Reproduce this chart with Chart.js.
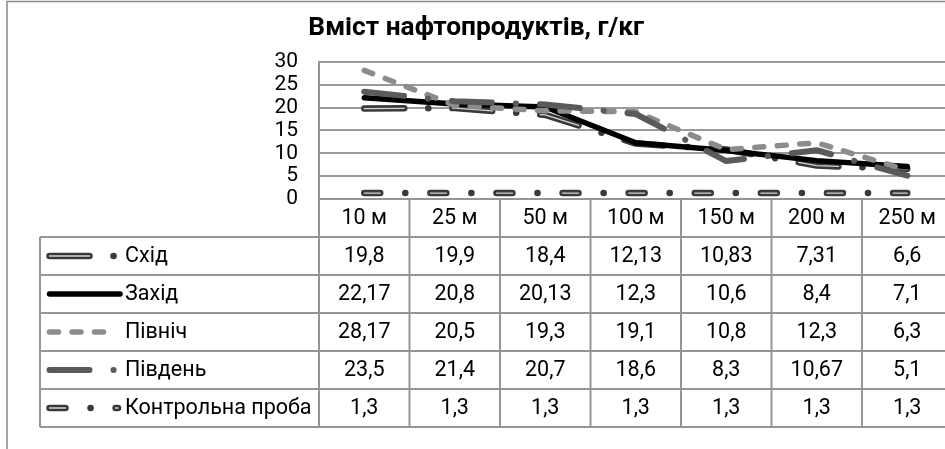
<!DOCTYPE html>
<html><head><meta charset="utf-8">
<script src="https://cdn.jsdelivr.net/npm/chart.js@4.4.1/dist/chart.umd.min.js"></script>
<style>html,body{margin:0;padding:0;background:#fff;overflow:hidden;width:945px;height:449px}canvas{display:block}</style>
</head><body>
<canvas id="c" width="969" height="449"></canvas>
<script>
// ---- data ----
const categories = ['10 м','25 м','50 м','100 м','150 м','200 м','250 м'];
const seriesNames = ['Схід','Захід','Північ','Південь','Контрольна проба'];
const skhid   = [19.8, 19.9, 18.4, 12.13, 10.83, 7.31, 6.6];
const zakhid  = [22.17, 20.8, 20.13, 12.3, 10.6, 8.4, 7.1];
const pivnich = [28.17, 20.5, 19.3, 19.1, 10.8, 12.3, 6.3];
const pivden  = [23.5, 21.4, 20.7, 18.6, 8.3, 10.67, 5.1];
const kontrol = [1.3, 1.3, 1.3, 1.3, 1.3, 1.3, 1.3];
const yTicks  = [0, 5, 10, 15, 20, 25, 30];
const titleText = 'Вміст нафтопродуктів, г/кг';
const seriesValues = [skhid, zakhid, pivnich, pivden, kontrol];

// ---- styles ----
const FONT = 'Roboto';
const styles = [
  {color:'#3a3a3a', width:6.5, dash:[40,24,0.1,24], inner:'#d4d4d4', innerWidth:1.3, innerDash:[40,48.1], keyEnd:113.6},
  {color:'#000000', width:5.5, dash:[], keyEnd:120},
  {color:'#8c8c8c', width:5.5, dash:[9,13.5], keyEnd:107},
  {color:'#5a5a5a', width:6, dash:[40,24,0.1,24], keyEnd:113.6},
  {color:'#3a3a3a', width:6.5, dash:[16,25,0.1,25], inner:'#d4d4d4', innerWidth:1.3, innerDash:[16,50.1], keyEnd:118}
];

const fmt = v => String(v).replace('.', ',');

const frame = {
  id:'frame',
  beforeDraw(chart){
    const ctx = chart.ctx;
    ctx.save();
    ctx.fillStyle = '#fff';
    ctx.fillRect(0,0,chart.width,chart.height);
    ctx.strokeStyle = '#8a8a8a'; ctx.lineWidth = 1.5;
    ctx.beginPath();
    ctx.moveTo(7, chart.height); ctx.lineTo(7, 1.5); ctx.lineTo(chart.width, 1.5);
    ctx.stroke();
    ctx.restore();
  }
};

const innerLine = {
  id:'innerLine',
  afterDatasetDraw(chart, args){
    const st = styles[args.index];
    if (!st || !st.inner) return;
    const pts = args.meta.data;
    const ctx = chart.ctx, a = chart.chartArea;
    ctx.save();
    ctx.beginPath(); ctx.rect(a.left, a.top - 10, a.right - a.left, a.bottom - a.top + 20); ctx.clip();
    ctx.beginPath();
    pts.forEach((p,i)=>{ if(i===0) ctx.moveTo(p.x,p.y); else ctx.lineTo(p.x,p.y); });
    ctx.setLineDash(st.innerDash);
    ctx.lineCap = 'round'; ctx.lineJoin = 'round';
    ctx.strokeStyle = st.inner; ctx.lineWidth = st.innerWidth;
    ctx.stroke();
    ctx.restore();
  }
};

const dataTable = {
  id:'dataTable',
  afterDraw(chart){
    const ctx = chart.ctx, a = chart.chartArea, x = chart.scales.x;
    const w = x.getPixelForValue(1) - x.getPixelForValue(0);
    const top = a.bottom, rowH = 38, legendLeft = 40;
    const n = seriesValues.length;
    const bottom = top + rowH * (n + 1);
    ctx.save();
    ctx.strokeStyle = '#959595'; ctx.lineWidth = 2;
    ctx.beginPath();
    for (let r = 0; r <= n + 1; r++) {
      const y = top + r * rowH;
      ctx.moveTo(r === 0 ? a.left : legendLeft, y); ctx.lineTo(a.right, y);
    }
    ctx.moveTo(legendLeft, top + rowH); ctx.lineTo(legendLeft, bottom);
    ctx.moveTo(a.left, top); ctx.lineTo(a.left, bottom);
    for (let i = 0; i < categories.length; i++) {
      const bx = x.getPixelForValue(i) + w / 2;
      ctx.moveTo(bx, top); ctx.lineTo(bx, bottom);
    }
    ctx.stroke();
    // text
    ctx.fillStyle = '#000';
    ctx.font = '21.5px ' + FONT;
    ctx.textBaseline = 'middle';
    ctx.textAlign = 'center';
    categories.forEach((c,i)=> ctx.fillText(c, x.getPixelForValue(i), top + rowH/2 + 1));
    seriesValues.forEach((vals, r) => {
      const cy = top + (r + 1.5) * rowH + 1;
      vals.forEach((v,i)=> ctx.fillText(fmt(v), x.getPixelForValue(i), cy));
    });
    // legend keys
    ctx.textAlign = 'left';
    seriesNames.forEach((name, r) => {
      const st = styles[r];
      const cy = top + (r + 1.5) * rowH;
      ctx.save();
      ctx.lineCap = 'round';
      ctx.setLineDash(st.dash);
      ctx.strokeStyle = st.color; ctx.lineWidth = st.width;
      ctx.beginPath(); ctx.moveTo(49.5, cy); ctx.lineTo(st.keyEnd, cy); ctx.stroke();
      if (st.inner) {
        ctx.setLineDash(st.innerDash);
        ctx.strokeStyle = st.inner; ctx.lineWidth = st.innerWidth;
        ctx.beginPath(); ctx.moveTo(49.5, cy); ctx.lineTo(st.keyEnd, cy); ctx.stroke();
      }
      ctx.restore();
      ctx.fillText(name, 125, cy + 1);
    });
    ctx.restore();
  }
};

Chart.defaults.font.family = FONT;
Chart.defaults.color = '#000';

new Chart(document.getElementById('c'), {
  type:'line',
  data:{
    labels: categories,
    datasets: seriesNames.map((name, i) => ({
      label: name,
      data: seriesValues[i],
      borderColor: styles[i].color,
      backgroundColor: styles[i].color,
      borderWidth: styles[i].width,
      borderDash: styles[i].dash,
      borderCapStyle: 'round',
      borderJoinStyle: 'round',
      pointRadius: 0,
      tension: 0,
      fill: false,
      order: seriesNames.length - i
    }))
  },
  options:{
    responsive:false,
    animation:false,
    events:[],
    layout:{padding:{top:0, left:0, right:16.5, bottom:250}},
    plugins:{
      legend:{display:false},
      tooltip:{enabled:false},
      title:{display:true, text:titleText, color:'#000',
        font:{family:FONT, size:26.3, weight:'bold', lineHeight:1.2}, padding:{top:13, bottom:17.4}}
    },
    scales:{
      x:{display:false, offset:true},
      y:{
        min:0, max:30,
        afterBuildTicks(scale){ scale.ticks = yTicks.map(v=>({value:v})); },
        afterFit(scale){ scale.width = 319; },
        ticks:{font:{size:21}, color:'#000', padding:21, autoSkip:false},
        grid:{color:'#9a9a9a', lineWidth:2, drawTicks:false},
        border:{display:true, color:'#959595', width:2}
      }
    }
  },
  plugins:[frame, innerLine, dataTable]
});
</script>
</body></html>
